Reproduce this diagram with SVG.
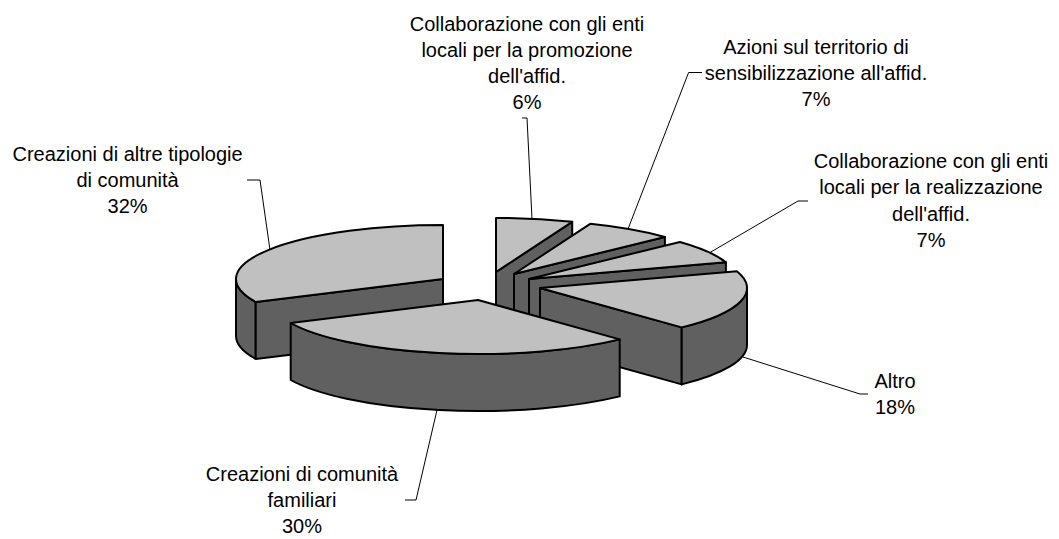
<svg xmlns="http://www.w3.org/2000/svg" width="1059" height="539" viewBox="0 0 1059 539">
<style>
.top{fill:#C0C0C0;stroke:#000;stroke-width:2;stroke-linejoin:round}
.side{fill:#606060;stroke:#000;stroke-width:2;stroke-linejoin:round}
.lbl{font-family:"Liberation Sans",Arial,sans-serif;font-size:20px;fill:#000;text-anchor:middle}
.lead{fill:none;stroke:#000;stroke-width:1}
</style>
<rect width="1059" height="539" fill="#fff"/>
<g id="slice-promozione">
<path class="side" d="M496,272 L572.2,221.8 L572.2,278.8 L496,329 Z"/>
<path class="top" d="M496,272 L496,218 A207,54 0 0 1 572.2,221.8 Z"/>
<text class="lbl" x="527" y="31">Collaborazione con gli enti</text>
<text class="lbl" x="527" y="57">locali per la promozione</text>
<text class="lbl" x="527" y="83">dell'affid.</text>
<text class="lbl" x="527" y="109">6%</text>
</g>
<g id="slice-azioni">
<path class="side" d="M514,274 L664.9,237 L664.9,294 L514,331 Z"/>
<path class="top" d="M514,274 L590.2,223.8 A207,54 0 0 1 664.9,237 Z"/>
<text class="lbl" x="816" y="54">Azioni sul territorio di</text>
<text class="lbl" x="816" y="80">sensibilizzazione all'affid.</text>
<text class="lbl" x="816" y="106">7%</text>
</g>
<g id="slice-realizzazione">
<path class="side" d="M529,279 L725.9,262.3 L725.9,319.3 L529,336 Z"/>
<path class="top" d="M529,279 L679.9,242 A207,54 0 0 1 725.9,262.3 Z"/>
<text class="lbl" x="931" y="168">Collaborazione con gli enti</text>
<text class="lbl" x="931" y="194">locali per la realizzazione</text>
<text class="lbl" x="931" y="221">dell'affid.</text>
<text class="lbl" x="931" y="247">7%</text>
</g>
<g id="slice-altre-tipologie">
<path class="side" d="M236,279 A207,54 0 0 0 255.7,302 L255.7,359 A207,54 0 0 1 236,336 Z"/>
<path class="side" d="M443,279 L255.7,302 L255.7,359 L443,336 Z"/>
<path class="top" d="M443,279 L443,225 A207,54 0 0 0 255.7,302 Z"/>
<text class="lbl" x="127.6" y="161">Creazioni di altre tipologie</text>
<text class="lbl" x="127.6" y="187">di comunità</text>
<text class="lbl" x="127.6" y="213">32%</text>
</g>
<g id="slice-altro">
<path class="side" d="M540,288 L681.7,327.4 L681.7,384.4 L540,345 Z"/>
<path class="side" d="M681.7,327.4 A207,54 0 0 0 747,288 L747,345 A207,54 0 0 1 681.7,384.4 Z"/>
<path class="top" d="M540,288 L736.9,271.3 A207,54 0 0 1 681.7,327.4 Z"/>
<text class="lbl" x="895" y="388">Altro</text>
<text class="lbl" x="895" y="414">18%</text>
</g>
<g id="slice-familiari">
<path class="side" d="M290.7,323 A207,54 0 0 0 619.7,339.4 L619.7,396.4 A207,54 0 0 1 290.7,380 Z"/>
<path class="top" d="M478,300 L619.7,339.4 A207,54 0 0 1 290.7,323 Z"/>
<text class="lbl" x="302" y="481">Creazioni di comunità</text>
<text class="lbl" x="302" y="507">familiari</text>
<text class="lbl" x="302" y="533">30%</text>
</g>
<g id="connectors">
<polyline class="lead" points="522,118 527,118 532,219"/>
<polyline class="lead" points="702,72.5 688.6,72.5 628,229"/>
<polyline class="lead" points="808,201 798,201 710,252.5"/>
<polyline class="lead" points="868,394 860,394 743,357"/>
<polyline class="lead" points="247,180 260,180 270,250"/>
<polyline class="lead" points="405,500 416,500 437,410"/>
</g>
</svg>
